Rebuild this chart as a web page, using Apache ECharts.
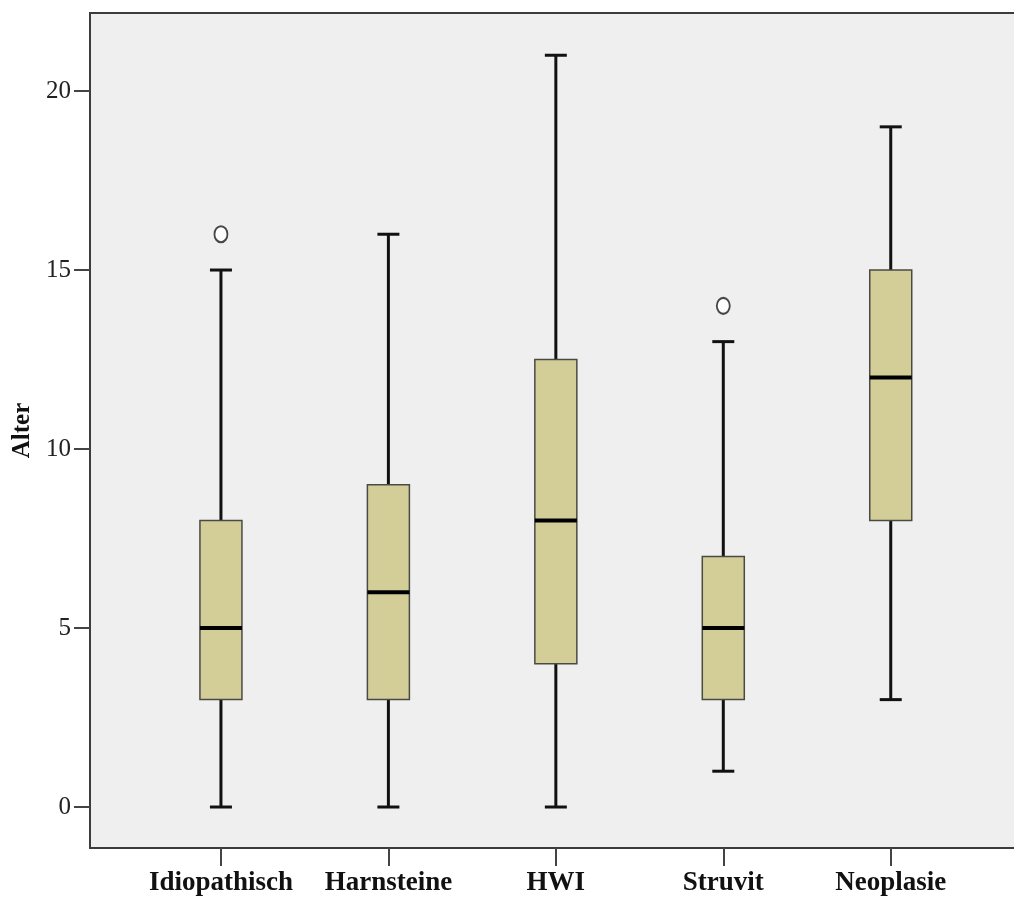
<!DOCTYPE html>
<html>
<head>
<meta charset="utf-8">
<script src="https://cdn.jsdelivr.net/npm/echarts@6/dist/echarts.min.js"></script>
<style>
  html, body { margin: 0; padding: 0; background: #ffffff; }
  #chart { width: 1014px; height: 907px; }
</style>
</head>
<body>
<div id="chart"></div>
<script>
// Age distribution per diagnosis group (box plot)
const categories = ['Idiopathisch', 'Harnsteine', 'HWI', 'Struvit', 'Neoplasie'];
const whiskerLow  = [0, 0, 0, 1, 3];
const quartile1   = [3, 3, 4, 3, 8];
const medians     = [5, 6, 8, 5, 12];
const quartile3   = [8, 9, 12.5, 7, 15];
const whiskerHigh = [15, 16, 21, 13, 19];
// outliers as [group index, value]
const outliers = [[0, 16], [3, 14]];
const yTicks = [0, 5, 10, 15, 20];

const boxData = categories.map((c, i) => [i, whiskerLow[i], quartile1[i], medians[i], quartile3[i], whiskerHigh[i]]);

const serif = '"Liberation Serif", "Times New Roman", serif';

function renderBox(params, api) {
  const x = api.value(0);
  const pMin = api.coord([x, api.value(1)]);
  const pQ1 = api.coord([x, api.value(2)]);
  const pMed = api.coord([x, api.value(3)]);
  const pQ3 = api.coord([x, api.value(4)]);
  const pMax = api.coord([x, api.value(5)]);
  const cx = pMed[0];
  const halfBox = 21;
  const halfCap = 11;
  const whiskerStyle = { stroke: '#111111', lineWidth: 3 };
  return {
    type: 'group',
    children: [
      { type: 'line', shape: { x1: cx, y1: pQ3[1], x2: cx, y2: pMax[1] }, style: whiskerStyle },
      { type: 'line', shape: { x1: cx, y1: pQ1[1], x2: cx, y2: pMin[1] }, style: whiskerStyle },
      { type: 'line', shape: { x1: cx - halfCap, y1: pMax[1], x2: cx + halfCap, y2: pMax[1] }, style: whiskerStyle },
      { type: 'line', shape: { x1: cx - halfCap, y1: pMin[1], x2: cx + halfCap, y2: pMin[1] }, style: whiskerStyle },
      { type: 'rect', shape: { x: cx - halfBox, y: pQ3[1], width: halfBox * 2, height: pQ1[1] - pQ3[1] },
        style: { fill: '#d3ce98', stroke: '#4a4a44', lineWidth: 1.5 } },
      { type: 'line', shape: { x1: cx - halfBox, y1: pMed[1], x2: cx + halfBox, y2: pMed[1] },
        style: { stroke: '#000000', lineWidth: 4 } }
    ]
  };
}

const chart = echarts.init(document.getElementById('chart'), null, { renderer: 'canvas' });
chart.setOption({
  animation: false,
  backgroundColor: '#ffffff',
  grid: {
    left: 90, top: 13, right: -3, bottom: 59,
    containLabel: false,
    outerBoundsMode: 'none',
    show: true,
    backgroundColor: '#efefef',
    borderColor: '#3c3c3c',
    borderWidth: 2
  },
  xAxis: {
    type: 'value',
    min: -0.782,
    max: 4.754,
    splitLine: { show: false },
    axisLine: { show: false, onZero: false },
    axisTick: { show: true, length: 18, customValues: categories.map((c, i) => i),
                lineStyle: { color: '#444444', width: 2 } },
    axisLabel: {
      customValues: categories.map((c, i) => i),
      formatter: v => categories[Math.round(v)] || '',
      margin: 22,
      fontFamily: serif, fontWeight: 'bold', fontSize: 27, color: '#111111'
    }
  },
  yAxis: {
    type: 'value',
    min: -1.145,
    max: 22.18,
    name: 'Alter',
    nameLocation: 'middle',
    nameGap: 55,
    nameTextStyle: { fontFamily: serif, fontWeight: 'bold', fontSize: 25, color: '#111111' },
    splitLine: { show: false },
    axisLine: { show: false, onZero: false },
    axisTick: { show: true, length: 16, customValues: yTicks,
                lineStyle: { color: '#444444', width: 2 } },
    axisLabel: {
      customValues: yTicks,
      margin: 19,
      fontFamily: serif, fontSize: 25, color: '#222222'
    }
  },
  series: [
    {
      type: 'custom',
      renderItem: renderBox,
      encode: { x: 0, y: [1, 2, 3, 4, 5] },
      data: boxData,
      clip: false
    },
    {
      type: 'scatter',
      symbol: 'emptyCircle',
      symbolSize: [13, 16],
      itemStyle: { color: '#1a1a1a', borderColor: '#1a1a1a', borderWidth: 2 },
      data: outliers
    }
  ]
});
</script>
</body>
</html>
